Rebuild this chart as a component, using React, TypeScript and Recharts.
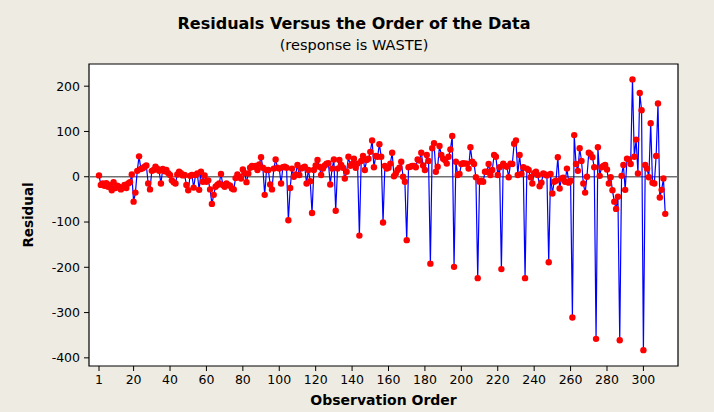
import React from 'react';
import { LineChart, Line, XAxis, YAxis, ReferenceLine, ReferenceArea } from 'recharts';

// Residuals in observation order, split into blocks of 52 observations
const residualsBlock1 = [
  3, -18, -15, -20, -14, -22, -18, -30, -12, -25,
  -20, -22, -28, -24, -18, -25, -15, -12, 5, -55,
  -35, 13, 45, 17, 19, 22, 25, -15, -28, 13,
  15, 22, 18, 13, -15, 17, 12, 15, 8, 4,
  -8, -12, -15, 5, 11, 8, 3, 4, -18, -30,
  2, 4,
];
const residualsBlock2 = [
  -24, 4, 7, -29, 11, -11, 3, -11, -8, -28,
  -60, -40, -22, -18, -15, 6, -18, -22, -15, -18,
  -20, -26, -28, -3, 5, 0, -4, 16, 8, -12,
  7, 20, 24, 22, 24, 15, 27, 43, 20, -40,
  15, 15, -17, -28, 18, 38, 20, 18, -15, 21,
  22, 20,
];
const residualsBlock3 = [
  -96, -25, 18, 0, 5, 26, 4, 18, 20, 22,
  -15, 15, -10, -80, 15, 25, 37, 22, 4, 18,
  25, 29, 30, -17, 18, 38, -75, 18, 37, 26,
  20, -4, 11, 44, 24, 28, 40, 20, 29, -130,
  35, 46, 15, 37, 40, 55, 80, 21, 46, 44,
  72, 44,
];
const residualsBlock4 = [
  -101, 24, 18, 20, 29, 53, 1, 7, 15, 20,
  33, 0, -11, -140, 21, 22, 24, 24, 21, 38,
  36, 53, 25, 15, 48, 35, -192, 63, 74, 11,
  22, 68, 48, 40, 37, 29, 44, 60, 90, -199,
  33, 4, 6, 28, 30, 29, 29, 18, 65, 33,
  28, -1,
];
const residualsBlock5 = [
  -224, -11, -9, -11, 11, 11, 28, 4, 15, 48,
  44, 4, 21, -204, 29, 24, 22, -1, 29, 28,
  73, 80, 4, 48, 6, 21, -224, 18, 15, -1,
  -15, 8, 11, 4, -21, -13, 7, 5, 3, -189,
  6, -37, -11, -9, 43, -26, -4, -2, -11, 18,
  -13, -9,
];
const residualsBlock6 = [
  -311, 92, 28, 13, 63, 35, -15, -35, 0, 53,
  50, 43, 21, -358, 65, 2, 21, 24, 26, 16,
  -15, -1, -30, -55, -71, -44, -361, 2, 26, -29,
  40, 38, 28, 215, 44, 82, 7, 185, 147, -383,
  26, 18, -1, 118, -13, -15, 46, 162, -46, -29,
  -4, -82,
];

const xTicks = [1, 20, 40, 60, 80, 100, 120, 140, 160, 180, 200, 220, 240, 260, 280, 300];
const yTicks = [-400, -300, -200, -100, 0, 100, 200];
const xDomain: [number, number] = [-4.5, 319];
const yDomain: [number, number] = [-418, 249];

const residuals = [
  ...residualsBlock1,
  ...residualsBlock2,
  ...residualsBlock3,
  ...residualsBlock4,
  ...residualsBlock5,
  ...residualsBlock6,
];
const data = residuals.map((r, i) => ({ order: i + 1, residual: r }));

const FONT = "'DejaVu Sans', Verdana, sans-serif";

const YLabel = (props: any) => {
  const vb = props.viewBox || { x: 0, y: 0, width: 0, height: 0 };
  const cx = vb.x + 28;
  const cy = vb.y + vb.height / 2;
  return (
    <text
      x={cx}
      y={cy}
      transform={`rotate(-90 ${cx} ${cy})`}
      textAnchor="middle"
      dominantBaseline="central"
      fontFamily={FONT}
      fontWeight="bold"
      fontSize={13.5}
      fill="#000"
    >
      Residual
    </text>
  );
};

const XLabel = (props: any) => {
  const vb = props.viewBox || { x: 0, y: 0, width: 0, height: 0 };
  return (
    <text
      x={vb.x + vb.width / 2}
      y={vb.y + 39}
      textAnchor="middle"
      fontFamily={FONT}
      fontWeight="bold"
      fontSize={14}
      fill="#000"
    >
      Observation Order
    </text>
  );
};

export default function App() {
  return (
    <div
      style={{
        position: 'absolute',
        left: 0,
        top: 0,
        width: 714,
        height: 412,
        background: '#EEEBE3',
        fontFamily: FONT,
      }}
    >
      <LineChart
        width={714}
        height={412}
        data={data}
        margin={{ top: 64, right: 36, bottom: 0, left: 0 }}
      >
        <text x={354} y={29} textAnchor="middle" fontFamily={FONT} fontWeight="bold" fontSize={16} fill="#000">
          Residuals Versus the Order of the Data
        </text>
        <text x={354} y={50} textAnchor="middle" fontFamily={FONT} fontSize={14.5} fill="#000">
          (response is WASTE)
        </text>
        <XAxis
          dataKey="order"
          type="number"
          domain={xDomain}
          ticks={xTicks}
          interval={0}
          allowDataOverflow
          height={46}
          axisLine={false}
          tickSize={5}
          tickMargin={4}
          tickLine={{ stroke: '#000' }}
          tick={{ fill: '#000', fontSize: 12.5, fontFamily: FONT }}
          label={<XLabel />}
        />
        <YAxis
          type="number"
          domain={yDomain}
          ticks={yTicks}
          interval={0}
          allowDataOverflow
          width={89}
          axisLine={false}
          tickSize={5}
          tickMargin={4}
          tickLine={{ stroke: '#000' }}
          tick={{ fill: '#000', fontSize: 12.5, fontFamily: FONT }}
          label={<YLabel />}
        />
        <ReferenceArea
          x1={xDomain[0]}
          x2={xDomain[1]}
          y1={yDomain[0]}
          y2={yDomain[1]}
          fill="#FFFFFF"
          fillOpacity={1}
          stroke="#000"
          strokeWidth={1.2}
          ifOverflow="extendDomain"
        />
        <ReferenceLine y={0} stroke="#707070" strokeWidth={1.5} />
        <Line
          type="linear"
          dataKey="residual"
          stroke="#0000FF"
          strokeWidth={1.2}
          dot={{ r: 3.2, fill: '#FF0000', stroke: '#FF0000', strokeWidth: 0 }}
          isAnimationActive={false}
        />
      </LineChart>
    </div>
  );
}
